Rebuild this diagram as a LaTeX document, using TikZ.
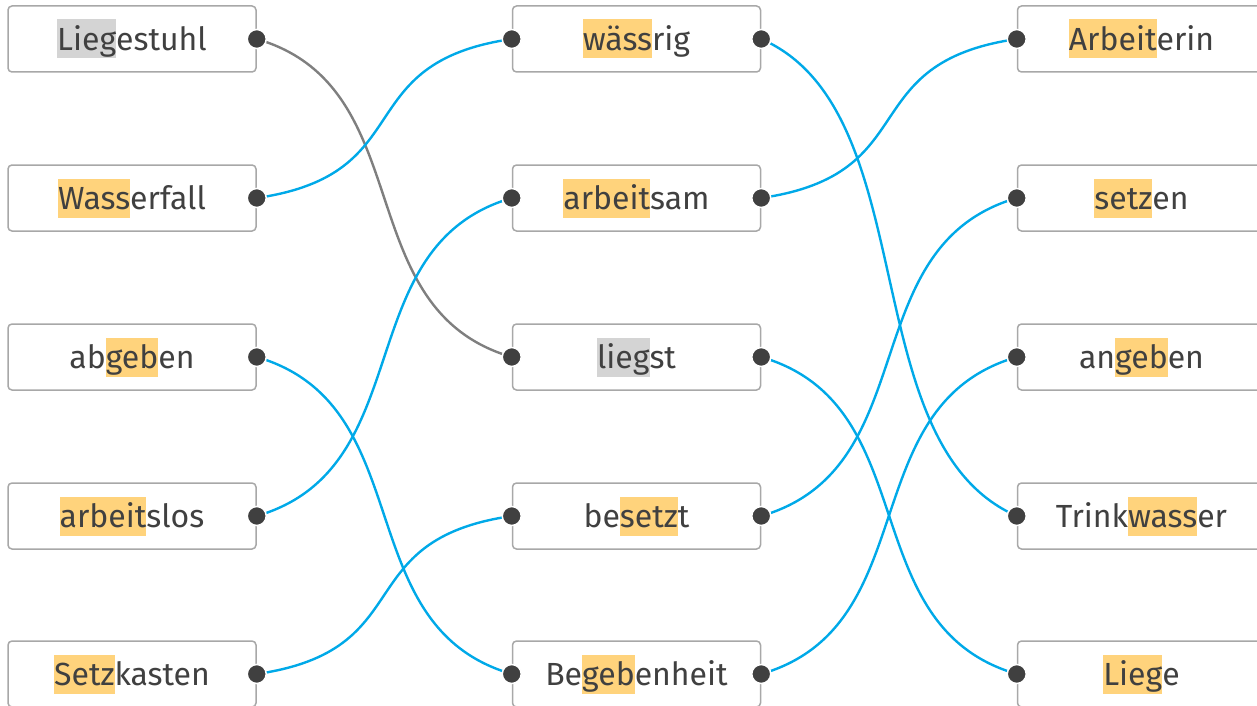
\documentclass[tikz,border=0pt]{standalone}
\usepackage{fontspec}
\setmainfont{Fira Sans}
\definecolor{boxc}{HTML}{A8A8A8}
\definecolor{txt}{HTML}{404040}
\definecolor{dotc}{HTML}{404040}
\definecolor{hlor}{HTML}{FFD37C}
\definecolor{hlgr}{HTML}{D4D4D4}
\definecolor{linkblue}{HTML}{00A9E8}
\definecolor{linkgray}{HTML}{7F7F7F}
\newcommand\stru{\rule[-8pt]{0pt}{39pt}}
\newcommand\hlo[1]{\begingroup\setlength\fboxsep{0pt}\colorbox{hlor}{\stru#1}\endgroup}
\newcommand\hlg[1]{\begingroup\setlength\fboxsep{0pt}\colorbox{hlgr}{\stru#1}\endgroup}
\begin{document}
\begin{tikzpicture}[x=1pt,y=-1pt,
  box/.style={draw=boxc, line width=1.5pt, rounded corners=4pt, minimum width=248pt,
    minimum height=66pt, inner sep=0pt, font=\fontsize{32}{38}\selectfont, text=txt, fill=white},
  dot/.style={circle, fill=dotc, draw=white, line width=1.5pt, minimum size=19pt, inner sep=0pt},
  link/.style={line width=2.4pt, draw=linkblue},
  glink/.style={line width=2.4pt, draw=linkgray}]
\useasboundingbox (0,0) rectangle (1257,706);
% left column
\node[box] (a1) at (132,39)  {\stru\hlg{Lieg}estuhl};
\node[box] (a2) at (132,198) {\stru\hlo{Wass}erfall};
\node[box] (a3) at (132,357) {\stru ab\hlo{geb}en};
\node[box] (a4) at (132,516) {\stru\hlo{arbeit}slos};
\node[box] (a5) at (132,674) {\stru\hlo{Setz}kasten};
% middle column
\node[box] (b1) at (636.5,39)  {\stru\hlo{wäss}rig};
\node[box] (b2) at (636.5,198) {\stru\hlo{arbeit}sam};
\node[box] (b3) at (636.5,357) {\stru\hlg{lieg}st};
\node[box] (b4) at (636.5,516) {\stru be\hlo{setz}t};
\node[box] (b5) at (636.5,674) {\stru Be\hlo{geb}enheit};
% right column
\node[box] (c1) at (1141.5,39)  {\stru\hlo{Arbeit}erin};
\node[box] (c2) at (1141.5,198) {\stru\hlo{setz}en};
\node[box] (c3) at (1141.5,357) {\stru an\hlo{geb}en};
\node[box] (c4) at (1141.5,516) {\stru Trink\hlo{wass}er};
\node[box] (c5) at (1141.5,674) {\stru\hlo{Lieg}e};
% anchor coordinates
\foreach \i in {1,...,5}{
  \coordinate (a\i r) at (a\i.east);
  \coordinate (b\i l) at (b\i.west);
  \coordinate (b\i r) at (b\i.east);
  \coordinate (c\i l) at (c\i.west);
}
% connectors
\draw[glink] (a1r) .. controls +(165,48) and +(-165,-48) .. (b3l);
\draw[link] (a2r) .. controls +(165,-24) and +(-165,24) .. (b1l);
\draw[link] (a3r) .. controls +(165,48) and +(-165,-48) .. (b5l);
\draw[link] (a4r) .. controls +(165,-48) and +(-165,48) .. (b2l);
\draw[link] (a5r) .. controls +(165,-24) and +(-165,24) .. (b4l);
\draw[link] (b1r) .. controls +(165,72) and +(-165,-72) .. (c4l);
\draw[link] (b2r) .. controls +(165,-24) and +(-165,24) .. (c1l);
\draw[link] (b3r) .. controls +(165,48) and +(-165,-48) .. (c5l);
\draw[link] (b4r) .. controls +(165,-48) and +(-165,48) .. (c2l);
\draw[link] (b5r) .. controls +(165,-48) and +(-165,48) .. (c3l);
% dots
\foreach \i in {1,...,5}{
  \node[dot] (da\i) at (a\i r) {};
  \node[dot] (dbl\i) at (b\i l) {};
  \node[dot] (dbr\i) at (b\i r) {};
  \node[dot] (dc\i) at (c\i l) {};
}
\end{tikzpicture}
\end{document}
